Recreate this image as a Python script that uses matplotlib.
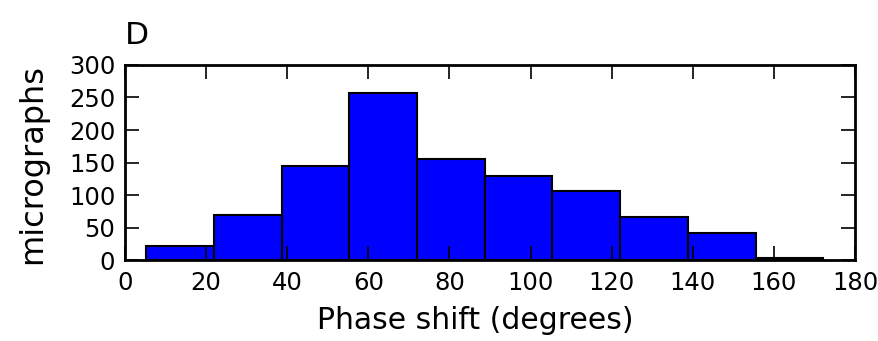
import matplotlib
matplotlib.use("Agg")
import matplotlib.pyplot as plt

# histogram bins (degrees) and counts
bin_edges = [5.2, 21.9, 38.6, 55.3, 72.0, 88.7, 105.4, 122.1, 138.8, 155.5, 172.2]
counts = [21, 69, 145, 257, 156, 130, 106, 66, 42, 3]
x_ticks = [0, 20, 40, 60, 80, 100, 120, 140, 160, 180]
y_ticks = [0, 50, 100, 150, 200, 250, 300]

plt.rcParams["font.family"] = ["DejaVu Sans"]

fig = plt.figure(figsize=(8.79, 3.41), dpi=100)
ax = fig.add_axes([0.1422, 0.2375, 0.8305, 0.5719])

lefts = bin_edges[:-1]
widths = [b - a for a, b in zip(bin_edges[:-1], bin_edges[1:])]
ax.bar(lefts, counts, width=widths, align="edge", color="#0000ff",
       edgecolor="black", linewidth=1.5)

ax.set_xlim(0, 180)
ax.set_ylim(0, 300)
ax.set_xticks(x_ticks)
ax.set_yticks(y_ticks)
ax.tick_params(direction="in", top=True, right=True, length=10, width=1.2,
               labelsize=17.5)
ax.tick_params(axis="x", pad=8)
ax.tick_params(axis="y", pad=7)
for s in ax.spines.values():
    s.set_linewidth(2)

ax.set_xlabel("Phase shift (degrees)", fontsize=21.5)
ax.xaxis.set_label_coords(0.48, -0.235)
ax.set_ylabel("micrographs", fontsize=23)
ax.yaxis.set_label_coords(-0.105, 0.49)
fig.text(0.142, 0.87, "D", fontsize=22.5)

fig.savefig("out.png", dpi=100)
